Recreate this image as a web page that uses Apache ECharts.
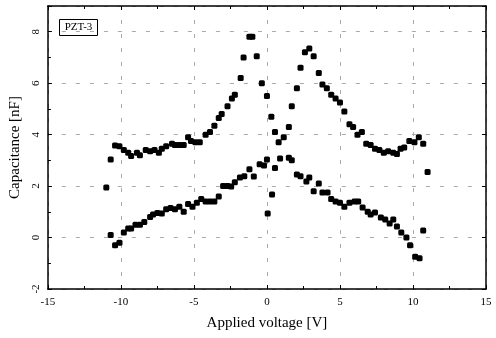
<!DOCTYPE html>
<html>
<head>
<meta charset="utf-8">
<script src="https://cdn.jsdelivr.net/npm/echarts@6/dist/echarts.min.js"></script>
<style>html,body{margin:0;padding:0;background:#fff}#c{width:496px;height:338px}</style>
</head>
<body>
<div id="c"></div>
<script>
// Upper branch (voltage [V], capacitance [nF])
var upperV = [-11.0,-10.7,-10.4,-10.1,-9.8,-9.5,-9.3,-8.9,-8.7,-8.3,-8.0,-7.7,-7.4,-7.2,-6.9,-6.5,-6.3,-6.0,-5.7,-5.4,-5.2,-4.9,-4.6,-4.2,-3.9,-3.6,-3.3,-3.1,-2.7,-2.4,-2.2,-1.8,-1.6,-1.2,-1.0,-0.7,-0.35,0.0,0.3,0.55,0.8,1.15,1.5,1.7,2.05,2.3,2.6,2.9,3.2,3.55,3.8,4.1,4.4,4.7,5.0,5.3,5.65,5.9,6.2,6.5,6.8,7.1,7.4,7.7,8.0,8.3,8.65,8.9,9.15,9.4,9.75,10.1,10.4,10.7,11.0];
var upperC = [1.95,3.03,3.58,3.55,3.4,3.3,3.17,3.3,3.2,3.4,3.35,3.4,3.3,3.45,3.55,3.65,3.6,3.6,3.6,3.9,3.75,3.7,3.7,4.0,4.1,4.35,4.65,4.8,5.1,5.4,5.55,6.2,7.0,7.8,7.8,7.05,6.0,5.5,4.7,4.1,3.7,3.9,4.3,5.1,5.8,6.6,7.2,7.35,7.05,6.4,5.95,5.8,5.55,5.4,5.25,4.9,4.4,4.3,4.0,4.1,3.65,3.6,3.45,3.4,3.3,3.35,3.3,3.25,3.45,3.5,3.75,3.7,3.9,3.65,2.55];
// Lower branch
var lowerV = [-10.7,-10.4,-10.1,-9.8,-9.5,-9.3,-9.0,-8.7,-8.4,-8.0,-7.8,-7.5,-7.2,-6.9,-6.6,-6.3,-6.0,-5.7,-5.4,-5.1,-4.8,-4.5,-4.2,-3.9,-3.6,-3.3,-3.0,-2.7,-2.45,-2.2,-1.85,-1.55,-1.2,-0.9,-0.5,-0.2,0.0,0.05,0.35,0.55,0.9,1.5,1.7,2.05,2.3,2.7,2.9,3.2,3.55,3.8,4.15,4.4,4.7,5.0,5.3,5.65,6.0,6.25,6.55,6.9,7.1,7.4,7.8,8.1,8.4,8.65,8.9,9.2,9.55,9.8,10.15,10.45,10.7];
var lowerC = [0.1,-0.3,-0.2,0.2,0.35,0.35,0.5,0.5,0.6,0.8,0.9,0.95,0.93,1.1,1.15,1.1,1.2,1.0,1.3,1.2,1.35,1.5,1.4,1.4,1.4,1.6,2.0,2.0,1.98,2.15,2.33,2.38,2.65,2.37,2.85,2.8,3.03,0.93,1.67,2.7,3.07,3.1,3.0,2.45,2.38,2.18,2.33,1.8,2.1,1.75,1.75,1.5,1.4,1.35,1.2,1.35,1.4,1.4,1.17,1.0,0.9,0.97,0.78,0.7,0.55,0.7,0.43,0.2,0.0,-0.3,-0.75,-0.8,0.27];
var xTicks = [-15,-10,-5,0,5,10,15];
var yTicks = [-2,0,2,4,6,8];

function zip(a,b){return a.map(function(v,i){return [v,b[i]];});}
var font = 'Liberation Serif';
var chart = echarts.init(document.getElementById('c'));
var tickStyle = {color:'#000', width:1};
chart.setOption({
  animation:false,
  backgroundColor:'#fff',
  grid:{left:45, top:6, right:10, bottom:49},
  xAxis:[{
    type:'value', min:-15, max:15, interval:5,
    axisLine:{show:true, onZero:false, lineStyle:{color:'#000', width:1.5}},
    axisTick:{show:true, inside:true, length:4, lineStyle:tickStyle},
    minorTick:{show:true, splitNumber:2, length:3, lineStyle:tickStyle},
    axisLabel:{fontFamily:font, fontSize:11, color:'#000', margin:8,
      formatter:function(v){return xTicks.indexOf(v)>=0 ? String(v) : '';}},
    splitLine:{show:true, lineStyle:{color:'#aaa', width:1, type:[4,10]}},
    name:'Applied voltage [V]', nameLocation:'middle', nameGap:27,
    nameTextStyle:{fontFamily:font, fontSize:15, color:'#000'}
  },{
    type:'value', position:'top', min:-15, max:15, interval:5,
    axisLine:{show:true, onZero:false, lineStyle:{color:'#000', width:1.5}},
    axisTick:{show:true, inside:true, length:4, lineStyle:tickStyle},
    minorTick:{show:true, splitNumber:2, length:3, lineStyle:tickStyle},
    axisLabel:{show:false}, splitLine:{show:false}
  }],
  yAxis:[{
    type:'value', min:-2, max:9, interval:2,
    axisLine:{show:true, onZero:false, lineStyle:{color:'#000', width:1.5}},
    axisTick:{show:true, inside:true, length:4, lineStyle:tickStyle},
    minorTick:{show:true, splitNumber:2, length:3, lineStyle:tickStyle},
    axisLabel:{fontFamily:font, fontSize:11, color:'#000', margin:6, rotate:90,
      formatter:function(v){return yTicks.indexOf(v)>=0 ? String(v) : '';}},
    splitLine:{show:true, lineStyle:{color:'#aaa', width:1, type:[4,10]}},
    name:'Capacitance [nF]', nameLocation:'middle', nameGap:22,
    nameTextStyle:{fontFamily:font, fontSize:15, color:'#000'}
  },{
    type:'value', position:'right', min:-2, max:9, interval:2,
    axisLine:{show:true, onZero:false, lineStyle:{color:'#000', width:1.5}},
    axisTick:{show:true, inside:true, length:4, lineStyle:tickStyle},
    axisLabel:{show:false}, splitLine:{show:false}
  }],
  graphic:[{
    type:'group', left:59, top:19,
    children:[
      {type:'rect', shape:{x:0,y:0,width:38,height:16}, style:{fill:'#fff', stroke:'#000', lineWidth:1}},
      {type:'text', style:{x:19, y:8, text:'PZT-3', fontFamily:font, fontSize:11, fill:'#000', align:'center', verticalAlign:'middle'}}
    ]
  }],
  series:[
    {type:'scatter', name:'upper', data:zip(upperV,upperC), symbol:'roundRect', symbolSize:6, itemStyle:{color:'#000', opacity:1}},
    {type:'scatter', name:'lower', data:zip(lowerV,lowerC), symbol:'roundRect', symbolSize:6, itemStyle:{color:'#000', opacity:1}}
  ]
});
</script>
</body>
</html>
